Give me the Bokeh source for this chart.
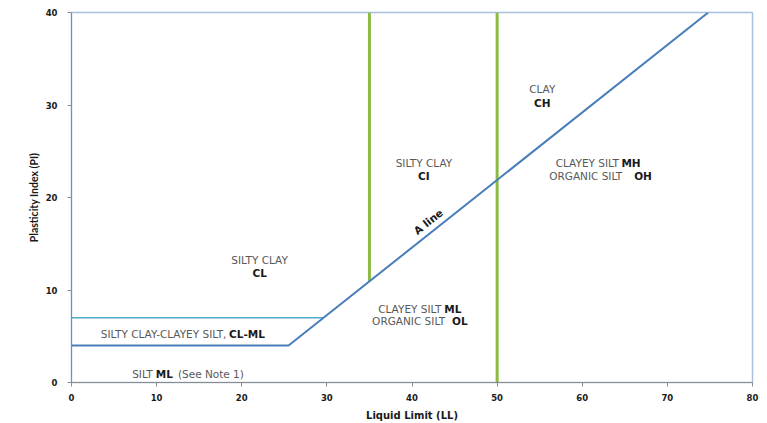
from bokeh.plotting import figure
from bokeh.models import Range1d, FixedTicker
from bokeh.core.properties import value
from bokeh.embed import file_html
from bokeh.resources import INLINE
import math

# ---- data ----
x_ticks = [0, 10, 20, 30, 40, 50, 60, 70, 80]
y_ticks = [0, 10, 20, 30, 40]

# A line (with PI = 4 floor) and CL-ML upper boundary at PI = 7
a_line_ll = [0, 25.5, 74.8]
a_line_pi = [4, 4, 40]
clml_ll = [0, 29.6]
clml_pi = [7, 7]
# LL boundaries (green verticals)
v1_ll = [35, 35]
v1_pi = [10.95, 40]
v2_ll = [50, 50]
v2_pi = [0, 40]

# labels: normal (grey) text pieces
norm_x = [22.1, 41.4, 55.3, 43.45, 43.9, 64.3, 64.7, 18.2, 7.13, 12.5]
norm_y = [13.2, 23.7, 31.7, 8.0, 6.6, 23.7, 22.3, 5.2, 0.95, 0.95]
norm_t = ["SILTY CLAY", "SILTY CLAY", "CLAY", "CLAYEY SILT", "ORGANIC SILT",
          "CLAYEY SILT", "ORGANIC SILT", "SILTY CLAY-CLAYEY SILT,", "SILT", "(See Note 1)"]
norm_a = ["center", "center", "center", "right", "right", "right", "right", "right", "left", "left"]

# labels: bold codes
bold_x = [22.1, 41.4, 55.3, 43.8, 44.7, 64.6, 66.1, 18.5, 9.9]
bold_y = [11.8, 22.3, 30.2, 8.0, 6.6, 23.7, 22.3, 5.2, 0.95]
bold_t = ["CL", "CI", "CH", "ML", "OL", "MH", "OH", "CL-ML", "ML"]
bold_a = ["center", "center", "center", "left", "left", "left", "left", "left", "left"]

aline_label_x = [41.9]
aline_label_y = [17.4]
aline_label_t = ["A line"]

FONT = "DejaVu Sans"

W, H = 767, 423
ML_, MR_, MT_, MB_ = 71, 15, 12, 38
p = figure(width=W, height=H, output_backend="svg", toolbar_location=None,
           x_range=Range1d(0, 80), y_range=Range1d(0, 40),
           min_border_left=ML_, min_border_right=MR_, min_border_top=MT_, min_border_bottom=MB_)
p.background_fill_color = "white"
p.border_fill_color = "white"
p.outline_line_color = "#a9c0df"
p.outline_line_width = 1.5
p.xgrid.visible = False
p.ygrid.visible = False

p.line(v1_ll, v1_pi, line_color="#8cba45", line_width=3)
p.line(v2_ll, v2_pi, line_color="#8cba45", line_width=3)
p.line(clml_ll, clml_pi, line_color="#4bacc6", line_width=1.5)
p.line(a_line_ll, a_line_pi, line_color="#4a7ebb", line_width=2)

p.text(x=norm_x, y=norm_y, text=norm_t, text_align=norm_a, text_baseline="middle",
       text_font=value(FONT), text_font_size="10.5px", text_color="#595959")
p.text(x=bold_x, y=bold_y, text=bold_t, text_align=bold_a, text_baseline="middle",
       text_font=value(FONT), text_font_size="10.5px", text_font_style="bold", text_color="#1a1a1a")
fw = W - ML_ - MR_
fh = H - MT_ - MB_
ang = math.atan(0.73 * (fh / 40) / (fw / 80))
p.text(x=aline_label_x, y=aline_label_y, text=aline_label_t, angle=ang, text_align="center",
       text_baseline="middle", text_font=value(FONT), text_font_size="10.5px",
       text_font_style="bold", text_color="#1a1a1a")

for ax in (p.xaxis[0], p.yaxis[0]):
    ax.axis_line_color = "#8c8c8c"
    ax.major_tick_line_color = "#8c8c8c"
    ax.major_tick_out = 4
    ax.major_tick_in = 0
    ax.minor_tick_line_color = None
    ax.major_label_text_font = FONT
    ax.major_label_text_font_size = "8.5px"
    ax.major_label_text_font_style = "bold"
    ax.major_label_text_color = "#1a1a1a"
    ax.axis_label_text_font_style = "bold"
    ax.axis_label_text_color = "#1a1a1a"

p.xaxis[0].ticker = FixedTicker(ticks=x_ticks)
p.yaxis[0].ticker = FixedTicker(ticks=y_ticks)
p.xaxis[0].axis_label = "Liquid Limit (LL)"
p.yaxis[0].axis_label = "Plasticity Index (PI)"
p.xaxis[0].axis_label_text_font = FONT
p.xaxis[0].axis_label_text_font_size = "10px"
p.yaxis[0].axis_label_text_font = "Lato"
p.yaxis[0].axis_label_text_font_size = "10.5px"
p.xaxis[0].major_label_standoff = 7
p.xaxis[0].axis_label_standoff = 6
p.yaxis[0].major_label_standoff = 10
p.yaxis[0].axis_label_standoff = 3

open("out.html", "w").write(file_html(p, INLINE))
